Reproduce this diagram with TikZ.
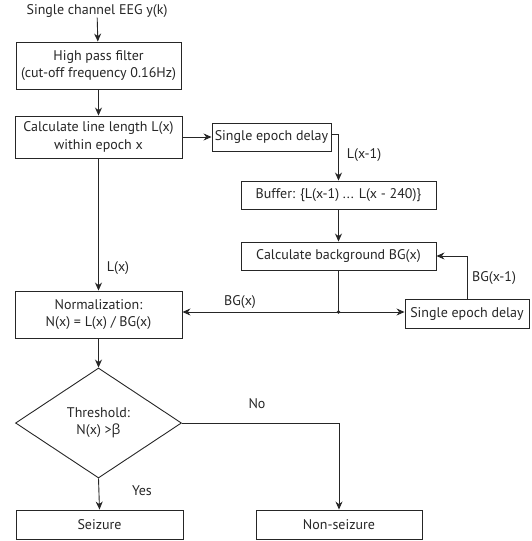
\documentclass[tikz,border=0pt]{standalone}
\usepackage{fontspec}
\setmainfont{PT Sans}
\newfontfamily\grk{Open Sans}
\usetikzlibrary{arrows.meta,shapes.geometric}
\begin{document}
\begin{tikzpicture}[x=1pt,y=-1pt,
  every node/.style={font=\fontsize{14}{17.5}\selectfont,text=black!85},
  box/.style={draw=black!85,line width=0.9pt,inner sep=0pt,align=center},
  conn/.style={draw=black!85,line width=0.9pt},
  arr/.style={conn,-{Stealth[length=8pt,width=7pt]}},
  lbl/.style={inner sep=0pt}]
\useasboundingbox (0,0) rectangle (531,541);
\node[lbl] (title) at (97,11) {Single channel EEG y(k)};
\node[box,minimum width=165pt,minimum height=47pt] (hpf) at (98.5,65.5) {High pass filter\\(cut-off frequency 0.16Hz)};
\node[box,minimum width=167pt,minimum height=42pt] (cll) at (98.5,137) {Calculate line length L(x)\\within epoch x};
\node[box,minimum width=119pt,minimum height=28pt] (sed1) at (271.5,137) {Single epoch delay};
\node[box,minimum width=195pt,minimum height=28pt] (buf) at (338.5,195) {Buffer: \{L(x-1) ... L(x - 240)\}};
\node[box,minimum width=195pt,minimum height=28pt] (cbg) at (338.5,256) {Calculate background BG(x)};
\node[box,minimum width=167pt,minimum height=47pt] (norm) at (98.5,314.5) {Normalization:\\N(x) = L(x) / BG(x)};
\node[box,minimum width=124pt,minimum height=29pt] (sed2) at (467,313.5) {Single epoch delay};
\node[box,shape=diamond,minimum width=166pt,minimum height=110pt] (dia) at (98.5,423) {Threshold:\\N(x) >{\grk β}};
\node[box,minimum width=167pt,minimum height=29pt] (seiz) at (99.5,524.5) {Seizure};
\node[box,minimum width=166pt,minimum height=29pt] (nons) at (339,524.5) {Non-seizure};
\coordinate (j) at (338.5,312);
\draw[arr] (title) -- (hpf);
\draw[arr] (hpf) -- (cll);
\draw[arr] (cll.east) -- (sed1.west);
\draw[arr] ([yshift=3pt]sed1.east) -| (buf.north);
\draw[arr] (buf) -- (cbg);
\draw[arr] (cll) -- (norm);
\draw[conn] (cbg.south) -- (j);
\fill[black!85] (j) circle (1.8pt);
\draw[arr] (j) -- (norm.east |- j);
\draw[arr] (j) -- (sed2.west |- j);
\draw[arr] (sed2.north) |- (cbg.east);
\draw[arr] (norm) -- (dia);
\draw[arr] (dia.south) -- (seiz.north);
\draw[arr] (dia.east) -| (nons.north);
\node[lbl] (l1) at (118,268) {L(x)};
\node[lbl] (l2) at (364,155) {L(x-1)};
\node[lbl] (l3) at (240,302) {BG(x)};
\node[lbl] (l4) at (494,278) {BG(x-1)};
\node[lbl] (l5) at (257,404) {No};
\node[lbl] (l6) at (142,491) {Yes};
\end{tikzpicture}
\end{document}
